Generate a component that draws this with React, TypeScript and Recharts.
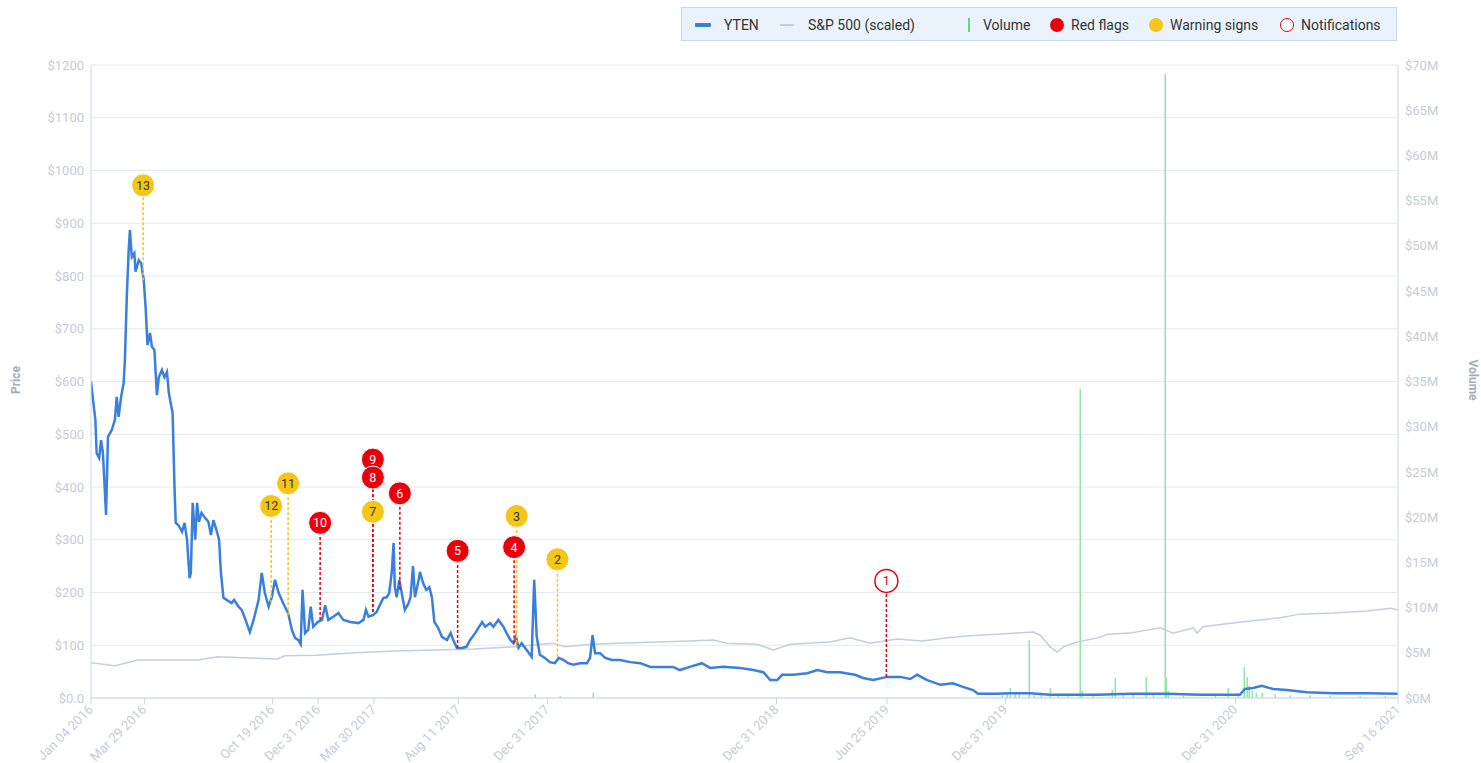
import React from "react";
import {
  ComposedChart,
  Line,
  Bar,
  XAxis,
  YAxis,
  CartesianGrid,
  ReferenceLine,
  ReferenceDot,
} from "recharts";

const START = Date.UTC(2016, 0, 4);
const END = Date.UTC(2021, 8, 16);
const DAY = 86400000;

// [days since Jan 04 2016, price $]
const yten: [number, number][] = [
  [0, 600], [2, 578], [7, 527], [9, 464], [13, 455], [16, 489], [19, 464], [24, 347],
  [27, 495], [33, 508], [38, 527], [41, 571], [44, 533], [48, 571], [52, 597], [54, 641],
  [57, 760], [60, 849], [62, 887], [65, 836], [69, 843], [71, 808], [76, 830], [80, 824],
  [84, 792], [87, 741], [90, 669], [94, 692], [97, 666], [101, 660], [105, 574], [108, 608],
  [113, 622], [117, 608], [121, 618], [124, 578], [130, 540], [133, 400], [135, 332], [139, 328],
  [145, 315], [149, 332], [153, 300], [157, 227], [159, 237], [162, 370], [166, 300], [169, 370],
  [172, 334], [176, 351], [182, 341], [187, 334], [191, 309], [195, 337], [200, 318], [204, 300],
  [207, 237], [211, 190], [216, 186], [224, 180], [228, 186], [235, 173], [240, 167], [245, 152],
  [248, 142], [253, 125], [259, 148], [267, 186], [272, 237], [277, 199], [283, 173], [288, 191],
  [293, 224], [299, 199], [306, 180], [314, 161], [320, 129], [325, 114], [330, 110], [334, 102],
  [337, 205], [341, 123], [346, 129], [350, 173], [354, 135], [361, 144], [368, 148], [373, 176],
  [378, 148], [386, 154], [394, 161], [402, 148], [413, 144], [426, 142], [434, 148], [438, 167],
  [442, 154], [449, 157], [455, 163], [460, 176], [466, 190], [471, 191], [475, 199], [479, 237],
  [482, 294], [484, 210], [487, 191], [491, 224], [497, 186], [500, 167], [506, 180], [509, 191],
  [513, 250], [516, 191], [522, 224], [524, 239], [529, 218], [534, 205], [539, 210], [543, 191],
  [547, 144], [553, 133], [559, 116], [567, 110], [573, 123], [577, 110], [583, 95], [591, 95],
  [598, 97], [604, 110], [612, 123], [623, 144], [628, 135], [636, 142], [641, 135], [649, 148],
  [657, 135], [662, 123], [668, 110], [673, 104], [677, 116], [681, 95], [686, 104], [694, 91],
  [702, 78], [706, 224], [710, 116], [715, 82], [723, 76], [731, 68], [739, 66], [745, 76],
  [753, 72], [760, 66], [768, 63], [779, 66], [790, 66], [795, 76], [799, 119], [803, 85],
  [811, 85], [819, 76], [830, 72], [843, 72], [859, 68], [875, 66], [891, 59], [911, 59],
  [927, 59], [938, 53], [954, 59], [973, 66], [986, 57], [1007, 59], [1034, 57], [1055, 53],
  [1071, 49], [1082, 34], [1093, 34], [1101, 44], [1119, 44], [1141, 47], [1157, 53], [1173, 49],
  [1193, 49], [1217, 44], [1230, 38], [1246, 34], [1268, 40], [1289, 40], [1305, 36], [1316, 44],
  [1332, 34], [1353, 25], [1373, 28], [1389, 21], [1405, 15], [1413, 8], [1443, 8], [1464, 9],
  [1496, 9], [1528, 6], [1560, 6], [1603, 6], [1655, 8], [1714, 8], [1767, 6], [1830, 6],
  [1838, 17], [1851, 19], [1865, 23], [1883, 17], [1905, 15], [1937, 11], [1979, 9], [2033, 9],
  [2082, 8],
];

// [days, S&P 500 scaled to price axis]
const sp500: [number, number][] = [
  [0, 67], [38, 61], [75, 72], [171, 72], [201, 78], [297, 74], [309, 80], [359, 81],
  [422, 86], [484, 89], [548, 91], [610, 93], [674, 97], [736, 104], [755, 97], [800, 102],
  [838, 104], [902, 106], [954, 108], [991, 110], [1013, 104], [1061, 102], [1087, 91], [1114, 102],
  [1141, 104], [1177, 106], [1209, 114], [1241, 104], [1284, 112], [1325, 108], [1364, 114], [1400, 118],
  [1443, 121], [1475, 123], [1501, 125], [1512, 119], [1528, 97], [1539, 87], [1549, 97], [1571, 106],
  [1603, 114], [1619, 121], [1655, 123], [1703, 133], [1724, 123], [1756, 133], [1762, 123], [1771, 135],
  [1819, 142], [1862, 148], [1894, 152], [1926, 159], [1979, 161], [2033, 165], [2070, 170], [2082, 167],
];

// [days, volume in $M]
const volume: [number, number][] = [
  [707, 0.4], [747, 0.2], [800, 0.6], [1451, 0.3], [1459, 0.4], [1464, 1.1], [1472, 0.5],
  [1478, 0.4], [1495, 6.4], [1502, 0.3], [1514, 0.6], [1527, 1.1], [1541, 0.3], [1557, 0.2],
  [1575, 34.2], [1579, 0.8], [1596, 0.3], [1626, 0.9], [1631, 2.2], [1644, 0.3], [1660, 0.4],
  [1680, 2.3], [1692, 0.3], [1711, 69.0], [1713, 2.3], [1716, 0.8], [1740, 0.3], [1791, 0.3],
  [1811, 1.1], [1827, 0.5], [1837, 3.4], [1841, 2.3], [1845, 1.4], [1849, 0.8], [1856, 0.6],
  [1865, 0.6], [1886, 0.4], [1910, 0.3], [1942, 0.3], [1974, 0.2], [2022, 0.2], [2061, 0.2],
];

// n, kind, day, circle level ($), line end level ($)
const flags = [
  { n: 13, kind: "warn", day: 83, y: 972, end: 792 },
  { n: 12, kind: "warn", day: 287, y: 364, end: 180 },
  { n: 11, kind: "warn", day: 314, y: 407, end: 157 },
  { n: 10, kind: "red", day: 365, y: 332, end: 148 },
  { n: 9, kind: "red", day: 449, y: 452, end: 163 },
  { n: 8, kind: "red", day: 449, y: 418, end: 163 },
  { n: 7, kind: "warn", day: 449, y: 353, end: 163 },
  { n: 6, kind: "red", day: 492, y: 388, end: 205 },
  { n: 5, kind: "red", day: 584, y: 279, end: 95 },
  { n: 4, kind: "red", day: 674, y: 286, end: 104 },
  { n: 3, kind: "warn", day: 678, y: 345, end: 95 },
  { n: 2, kind: "warn", day: 743, y: 263, end: 78 },
  { n: 1, kind: "note", day: 1267, y: 222, end: 40 },
];

const xTickDates = [
  [2016, 1, 4], [2016, 3, 29], [2016, 10, 19], [2016, 12, 31], [2017, 3, 30], [2017, 8, 11],
  [2017, 12, 31], [2018, 12, 31], [2019, 6, 25], [2019, 12, 31], [2020, 12, 31], [2021, 9, 16],
];
const priceTicks = [0, 100, 200, 300, 400, 500, 600, 700, 800, 900, 1000, 1100, 1200];
const volumeTicks = [0, 5, 10, 15, 20, 25, 30, 35, 40, 45, 50, 55, 60, 65, 70];
const MONTHS = ["Jan", "Feb", "Mar", "Apr", "May", "Jun", "Jul", "Aug", "Sep", "Oct", "Nov", "Dec"];

const RED = "#e8000d";
const YELLOW = "#f5c518";
const BLUE = "#3a7fde";
const SPC = "#c2cfe0";
const GREEN = "#5fd97f";
const VOLC = "#8fe6a8";
const LABEL = "#c5ccd8";
const AXIS = "#ccd6eb";
const FONT = "Roboto, 'Noto Sans', sans-serif";

const tOf = (d: number) => START + d * DAY;
const xTicks = xTickDates.map(([y, m, d]) => Date.UTC(y, m - 1, d));

const rows = new Map<number, any>();
const row = (d: number) => {
  if (!rows.has(d)) rows.set(d, { t: tOf(d) });
  return rows.get(d);
};
yten.forEach(([d, v]) => (row(d).price = v));
sp500.forEach(([d, v]) => (row(d).sp = v));
volume.forEach(([d, v]) => (row(d).vol = v));
const data = [...rows.entries()].sort((a, b) => a[0] - b[0]).map((e) => e[1]);

const fmtDate = (t: number) => {
  const dt = new Date(t);
  const dd = String(dt.getUTCDate()).padStart(2, "0");
  return `${MONTHS[dt.getUTCMonth()]} ${dd} ${dt.getUTCFullYear()}`;
};

const XTick = (props: any) => {
  const { x, y, payload } = props;
  return (
    <g transform={`translate(${x},${y})`}>
      <text
        textAnchor="end"
        transform="rotate(-45)"
        dy={5}
        dx={-1}
        fill={LABEL}
        fontSize={13}
        fontFamily={FONT}
      >
        {fmtDate(payload.value)}
      </text>
    </g>
  );
};

const VolBar = (props: any) => {
  const { x, y, width, height } = props;
  if (x == null || y == null || !height) return null;
  const cx = Math.round(x + width / 2);
  return <rect x={cx - 0.5} y={y} width={1.5} height={height} fill={VOLC} />;
};

const FlagDot = (props: any) => {
  const { cx, cy, n, kind } = props;
  if (cx == null || cy == null) return null;
  const fill = kind === "red" ? RED : kind === "warn" ? YELLOW : "#ffffff";
  const stroke = kind === "note" ? RED : "#ffffff";
  const txt = kind === "red" ? "#ffffff" : kind === "warn" ? "#333333" : RED;
  return (
    <g>
      <circle cx={cx} cy={cy} r={11.5} fill={fill} stroke={stroke} strokeWidth={kind === "note" ? 1.5 : 1} />
      <text x={cx} y={cy} dy={4.5} textAnchor="middle" fontSize={12.5} fontFamily={FONT} fill={txt}>
        {n}
      </text>
    </g>
  );
};

const lineOrder = [...flags].sort((a, b) => {
  const rank = (k: string) => (k === "warn" ? 0 : k === "red" ? 1 : 2);
  return rank(a.kind) - rank(b.kind);
});

const legendText: React.CSSProperties = {
  position: "absolute",
  top: 8,
  fontSize: 14,
  fontFamily: FONT,
  color: "#333",
  whiteSpace: "nowrap",
  lineHeight: "18px",
};

const Legend = () => (
  <div
    style={{
      position: "absolute",
      left: 681,
      top: 7,
      width: 716,
      height: 34,
      background: "#eaf3fc",
      border: "1px solid #c8d8ec",
      boxSizing: "border-box",
    }}
  >
    <div style={{ position: "absolute", left: 13, top: 15, width: 16, height: 4, background: BLUE, borderRadius: 1 }} />
    <span style={{ ...legendText, left: 42 }}>YTEN</span>
    <div style={{ position: "absolute", left: 98, top: 16, width: 14, height: 2, background: SPC }} />
    <span style={{ ...legendText, left: 126 }}>S&amp;P 500 (scaled)</span>
    <div style={{ position: "absolute", left: 286, top: 10, width: 2, height: 14, background: GREEN }} />
    <span style={{ ...legendText, left: 301 }}>Volume</span>
    <div style={{ position: "absolute", left: 368, top: 10, width: 14, height: 14, borderRadius: 7, background: RED }} />
    <span style={{ ...legendText, left: 389 }}>Red flags</span>
    <div style={{ position: "absolute", left: 467, top: 10, width: 14, height: 14, borderRadius: 7, background: YELLOW }} />
    <span style={{ ...legendText, left: 488 }}>Warning signs</span>
    <div
      style={{
        position: "absolute",
        left: 598,
        top: 10,
        width: 14,
        height: 14,
        borderRadius: 7,
        background: "#fff",
        border: `1.5px solid ${RED}`,
        boxSizing: "border-box",
      }}
    />
    <span style={{ ...legendText, left: 619 }}>Notifications</span>
  </div>
);

const axisTitle: React.CSSProperties = {
  position: "absolute",
  fontSize: 12,
  fontWeight: 700,
  fontFamily: FONT,
  color: "#a3adbd",
  whiteSpace: "nowrap",
};

export default function App() {
  return (
    <div style={{ position: "absolute", left: 0, top: 0, width: 1481, height: 763, background: "#fff" }}>
      <ComposedChart
        width={1481}
        height={763}
        data={data}
        margin={{ top: 65, right: 0, bottom: 0, left: 0 }}
      >
        <CartesianGrid yAxisId="price" vertical={false} stroke="#e4e8f0" />
        <XAxis
          dataKey="t"
          type="number"
          domain={[START, END]}
          allowDataOverflow
          ticks={xTicks}
          interval={0}
          height={65}
          stroke={AXIS}
          tickLine={{ stroke: AXIS }}
          tickSize={6}
          tickMargin={2}
          tick={<XTick />}
        />
        <YAxis
          yAxisId="price"
          domain={[0, 1200]}
          ticks={priceTicks}
          interval={0}
          width={91}
          stroke={AXIS}
          tickLine={false}
          tickSize={0}
          tickMargin={7}
          tick={{ fill: LABEL, fontSize: 13, fontFamily: FONT }}
          tickFormatter={(v: number) => (v === 0 ? "$0.0" : `$${v}`)}
        />
        <YAxis
          yAxisId="vol"
          orientation="right"
          domain={[0, 70]}
          ticks={volumeTicks}
          interval={0}
          width={83}
          stroke={AXIS}
          tickLine={false}
          tickSize={0}
          tickMargin={7}
          tick={{ fill: LABEL, fontSize: 13, fontFamily: FONT }}
          tickFormatter={(v: number) => `$${v}M`}
        />
        <Bar
          yAxisId="vol"
          dataKey="vol"
          barSize={1}
          fill={VOLC}
          shape={<VolBar />}
          isAnimationActive={false}
        />
        <Line
          yAxisId="price"
          dataKey="sp"
          stroke={SPC}
          strokeWidth={1.5}
          dot={false}
          connectNulls
          isAnimationActive={false}
        />
        <Line
          yAxisId="price"
          dataKey="price"
          stroke={BLUE}
          strokeWidth={2.5}
          dot={false}
          connectNulls
          isAnimationActive={false}
        />
        {lineOrder.map((f) => (
          <ReferenceLine
            key={`l${f.n}`}
            yAxisId="price"
            segment={[
              { x: tOf(f.day), y: f.end },
              { x: tOf(f.day), y: f.y },
            ]}
            stroke={f.kind === "warn" ? YELLOW : RED}
            strokeWidth={1.5}
            strokeDasharray="3 2"
          />
        ))}
        {flags.map((f) => (
          <ReferenceDot
            key={`d${f.n}`}
            yAxisId="price"
            x={tOf(f.day)}
            y={f.y}
            r={11.5}
            shape={(p: any) => <FlagDot {...p} n={f.n} kind={f.kind} />}
          />
        ))}
      </ComposedChart>
      <Legend />
      <div style={{ ...axisTitle, left: 16, top: 380, transform: "translate(-50%, -50%) rotate(-90deg)" }}>Price</div>
      <div style={{ ...axisTitle, left: 1473, top: 380, transform: "translate(-50%, -50%) rotate(90deg)" }}>Volume</div>
    </div>
  );
}
